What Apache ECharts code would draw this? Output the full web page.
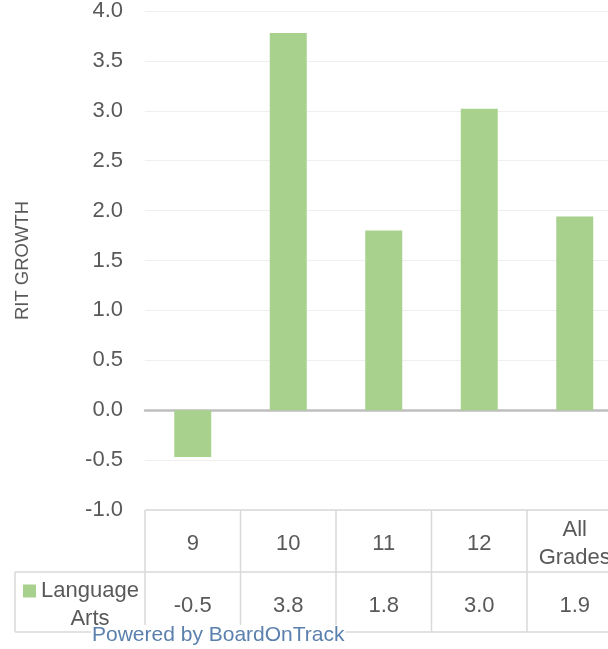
<!DOCTYPE html>
<html>
<head>
<meta charset="utf-8">
<script src="https://cdn.jsdelivr.net/npm/echarts@6/dist/echarts.min.js"></script>
<style>html,body{margin:0;padding:0;background:#fff}#c{width:608px;height:649px}</style>
</head>
<body>
<div id="c"></div>
<script>
const categories = ['9', '10', '11', '12', 'All Grades'];
const growth = [-0.47, 3.78, 1.80, 3.02, 1.94];
const seriesName = 'Language Arts';
const yMin = -1, yMax = 4, yStep = 0.5;
const footer = 'Powered by BoardOnTrack';

const FONT = '"Liberation Sans", Arial, sans-serif';
const TXT = '#595959';
const chart = echarts.init(document.getElementById('c'));

const option = {
  animation: false,
  textStyle: { fontFamily: FONT },
  grid: { left: 145, top: 11, bottom: 139, right: -14.5, containLabel: false, outerBoundsMode: 'none' },
  legend: {
    left: 18, top: 575,
    itemWidth: 13, itemHeight: 13, itemGap: 7,
    icon: 'rect',
    data: [seriesName],
    formatter: n => n.split(' ').map(w => '{a|' + w + '}').join('\n'),
    textStyle: {
      fontFamily: FONT, fontSize: 22, color: TXT, padding: [28, 0, 0, 0],
      rich: { a: { align: 'center', fontSize: 22, lineHeight: 28, color: TXT, fontFamily: FONT } }
    }
  },
  xAxis: [
    {
      type: 'category', data: categories,
      axisLine: { onZero: true, lineStyle: { color: '#bfbfbf', width: 2.5 } },
      axisTick: { show: false }, axisLabel: { show: false }, splitLine: { show: false }
    },
    {
      type: 'category', data: categories, position: 'bottom',
      axisLine: { show: false, onZero: false }, axisTick: { show: false },
      axisLabel: {
        interval: 0, margin: 34, verticalAlign: 'middle', fontSize: 22, color: TXT, lineHeight: 28,
        fontFamily: FONT, formatter: v => v.replace(' ', '\n')
      }
    },
    {
      type: 'category', data: growth.map(v => v.toFixed(1)), position: 'bottom',
      axisLine: { show: false, onZero: false }, axisTick: { show: false },
      axisLabel: { interval: 0, margin: 96, verticalAlign: 'middle', fontSize: 22, color: TXT, fontFamily: FONT }
    }
  ],
  yAxis: {
    type: 'value', min: yMin, max: yMax, interval: yStep,
    name: 'RIT GROWTH', nameLocation: 'middle', nameGap: 113,
    nameTextStyle: { fontSize: 18.5, color: TXT, fontFamily: FONT },
    axisLine: { show: false }, axisTick: { show: false },
    axisLabel: { fontSize: 22, color: TXT, margin: 22, fontFamily: FONT, formatter: v => v.toFixed(1) },
    splitLine: { lineStyle: { color: '#efefef', width: 1 } }
  },
  series: [{
    name: seriesName, type: 'bar', data: growth, barWidth: 37,
    itemStyle: { color: '#a9d18e' }
  }]
};
chart.setOption(option);

// table borders from the axis scales
const c0 = chart.convertToPixel({ xAxisIndex: 0 }, 0);
const c1 = chart.convertToPixel({ xAxisIndex: 0 }, 1);
const bw = c1 - c0;
const yTop = chart.convertToPixel({ yAxisIndex: 0 }, yMin);
const row1 = yTop + 62, row2 = yTop + 122;
const tableLeft = 15;
const lineStyle = { stroke: '#d9d9d9', lineWidth: 1.5 };
const els = [];
for (let i = 0; i <= categories.length; i++) {
  const x = c0 - bw / 2 + i * bw;
  els.push({ type: 'line', shape: { x1: x, y1: yTop, x2: x, y2: row2 }, style: lineStyle, z: 5 });
}
const xRight = c0 - bw / 2 + categories.length * bw;
els.push({ type: 'line', shape: { x1: c0 - bw / 2, y1: yTop, x2: xRight, y2: yTop }, style: lineStyle, z: 5 });
els.push({ type: 'line', shape: { x1: tableLeft, y1: row1, x2: xRight, y2: row1 }, style: lineStyle, z: 5 });
els.push({ type: 'line', shape: { x1: tableLeft, y1: row2, x2: xRight, y2: row2 }, style: lineStyle, z: 5 });
els.push({ type: 'line', shape: { x1: tableLeft, y1: row1, x2: tableLeft, y2: row2 }, style: lineStyle, z: 5 });
els.push({
  type: 'text', left: 91, top: 625, z: 20,
  style: { text: footer, fontSize: 21, fill: '#5b80ad', fontFamily: FONT, backgroundColor: '#fff', padding: [0, 1, 0, 1] }
});
chart.setOption({ graphic: els });
</script>
</body>
</html>
